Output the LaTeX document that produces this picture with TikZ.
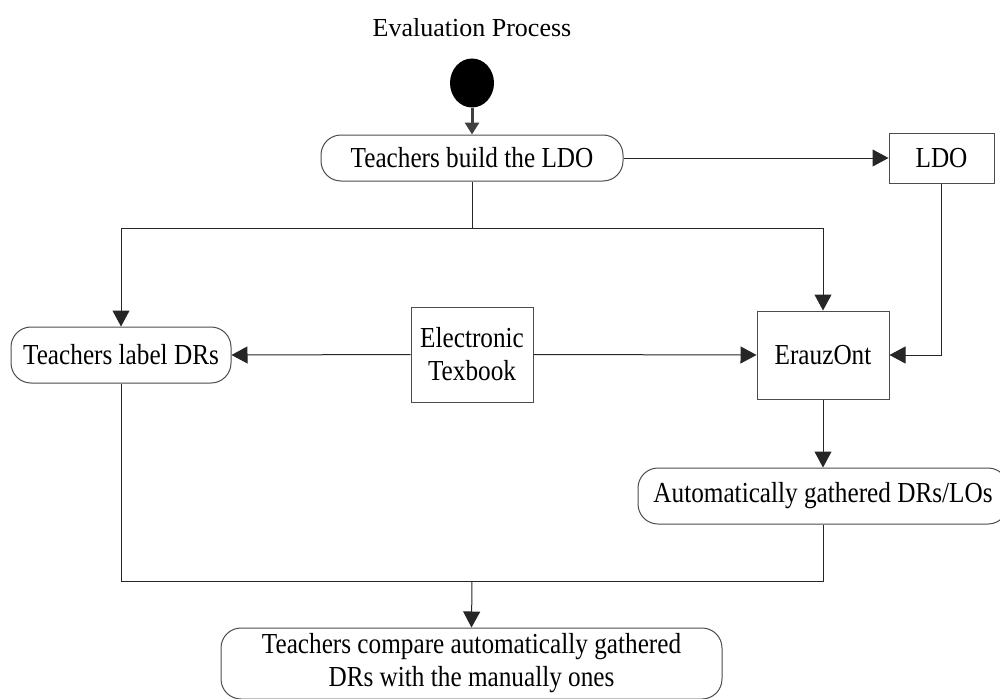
\documentclass[tikz,border=0pt]{standalone}
\usepackage{fontspec}
\setmainfont{Liberation Serif}
\newfontfamily\boxfont[FakeStretch=0.87]{Liberation Serif}
\usetikzlibrary{arrows.meta,shapes.geometric}

\tikzset{
  boxtext/.style={font=\boxfont\fontsize{29}{33}\selectfont, align=center, inner sep=0pt},
  activity/.style={boxtext, draw=black!70, line width=1pt, rounded corners=20pt, fill=white},
  artifact/.style={boxtext, draw=black!70, line width=1pt, fill=white},
  flow/.style={draw=black!85, line width=1pt, -{Triangle[length=16pt,width=17pt]}},
  plain/.style={draw=black!85, line width=1pt},
}

\begin{document}
\begin{tikzpicture}[x=1pt, y=-1pt]
\useasboundingbox (0,0) rectangle (1000,698);

% heading and start state
\node[font=\fontsize{26}{30}\selectfont, inner sep=0pt] (title) at (472,28) {Evaluation Process};
\node[ellipse, fill=black, minimum width=44pt, minimum height=49pt, inner sep=0pt] (start) at (472,83) {};

% activities and artifacts
\node[activity, minimum width=302pt, minimum height=46pt] (build) at (472,158) {Teachers build the LDO};
\node[artifact, minimum width=105pt, minimum height=50pt] (ldo) at (941.5,158) {LDO};
\node[activity, minimum width=220pt, minimum height=56pt] (label) at (121,355) {Teachers label DRs};
\node[artifact, minimum width=122pt, minimum height=95pt] (etb) at (472,354.5) {Electronic\\Texbook};
\node[artifact, minimum width=132pt, minimum height=88pt] (erauz) at (823,355) {ErauzOnt};
\node[activity, minimum width=370pt, minimum height=56pt] (auto) at (823,496) {Automatically gathered DRs/LOs};
\node[activity, minimum width=501pt, minimum height=71pt] (compare) at (471.5,663.5) {Teachers compare automatically gathered\\DRs with the manually ones};

% junction points
\coordinate (split) at (472,228);
\coordinate (join) at (472,581);

% connectors
\draw[draw=black!75, line width=3pt, -{Triangle[length=12pt,width=14pt]}] (start.south) -- (build.north);
\draw[flow] (build.east) -- (ldo.west);
\draw[plain] (build.south) -- (split);
\draw[flow] (split) -| (label.north);
\draw[flow] (split) -| (erauz.north);
\draw[flow] (etb.west) -- (label.east);
\draw[flow] (etb.east) -- (erauz.west);
\draw[flow] (ldo.south) |- (erauz.east);
\draw[flow] (erauz.south) -- (auto.north);
\draw[plain] (label.south) |- (join);
\draw[plain] (auto.south) |- (join);
\draw[flow] (join) -- (compare.north);
\end{tikzpicture}
\end{document}
